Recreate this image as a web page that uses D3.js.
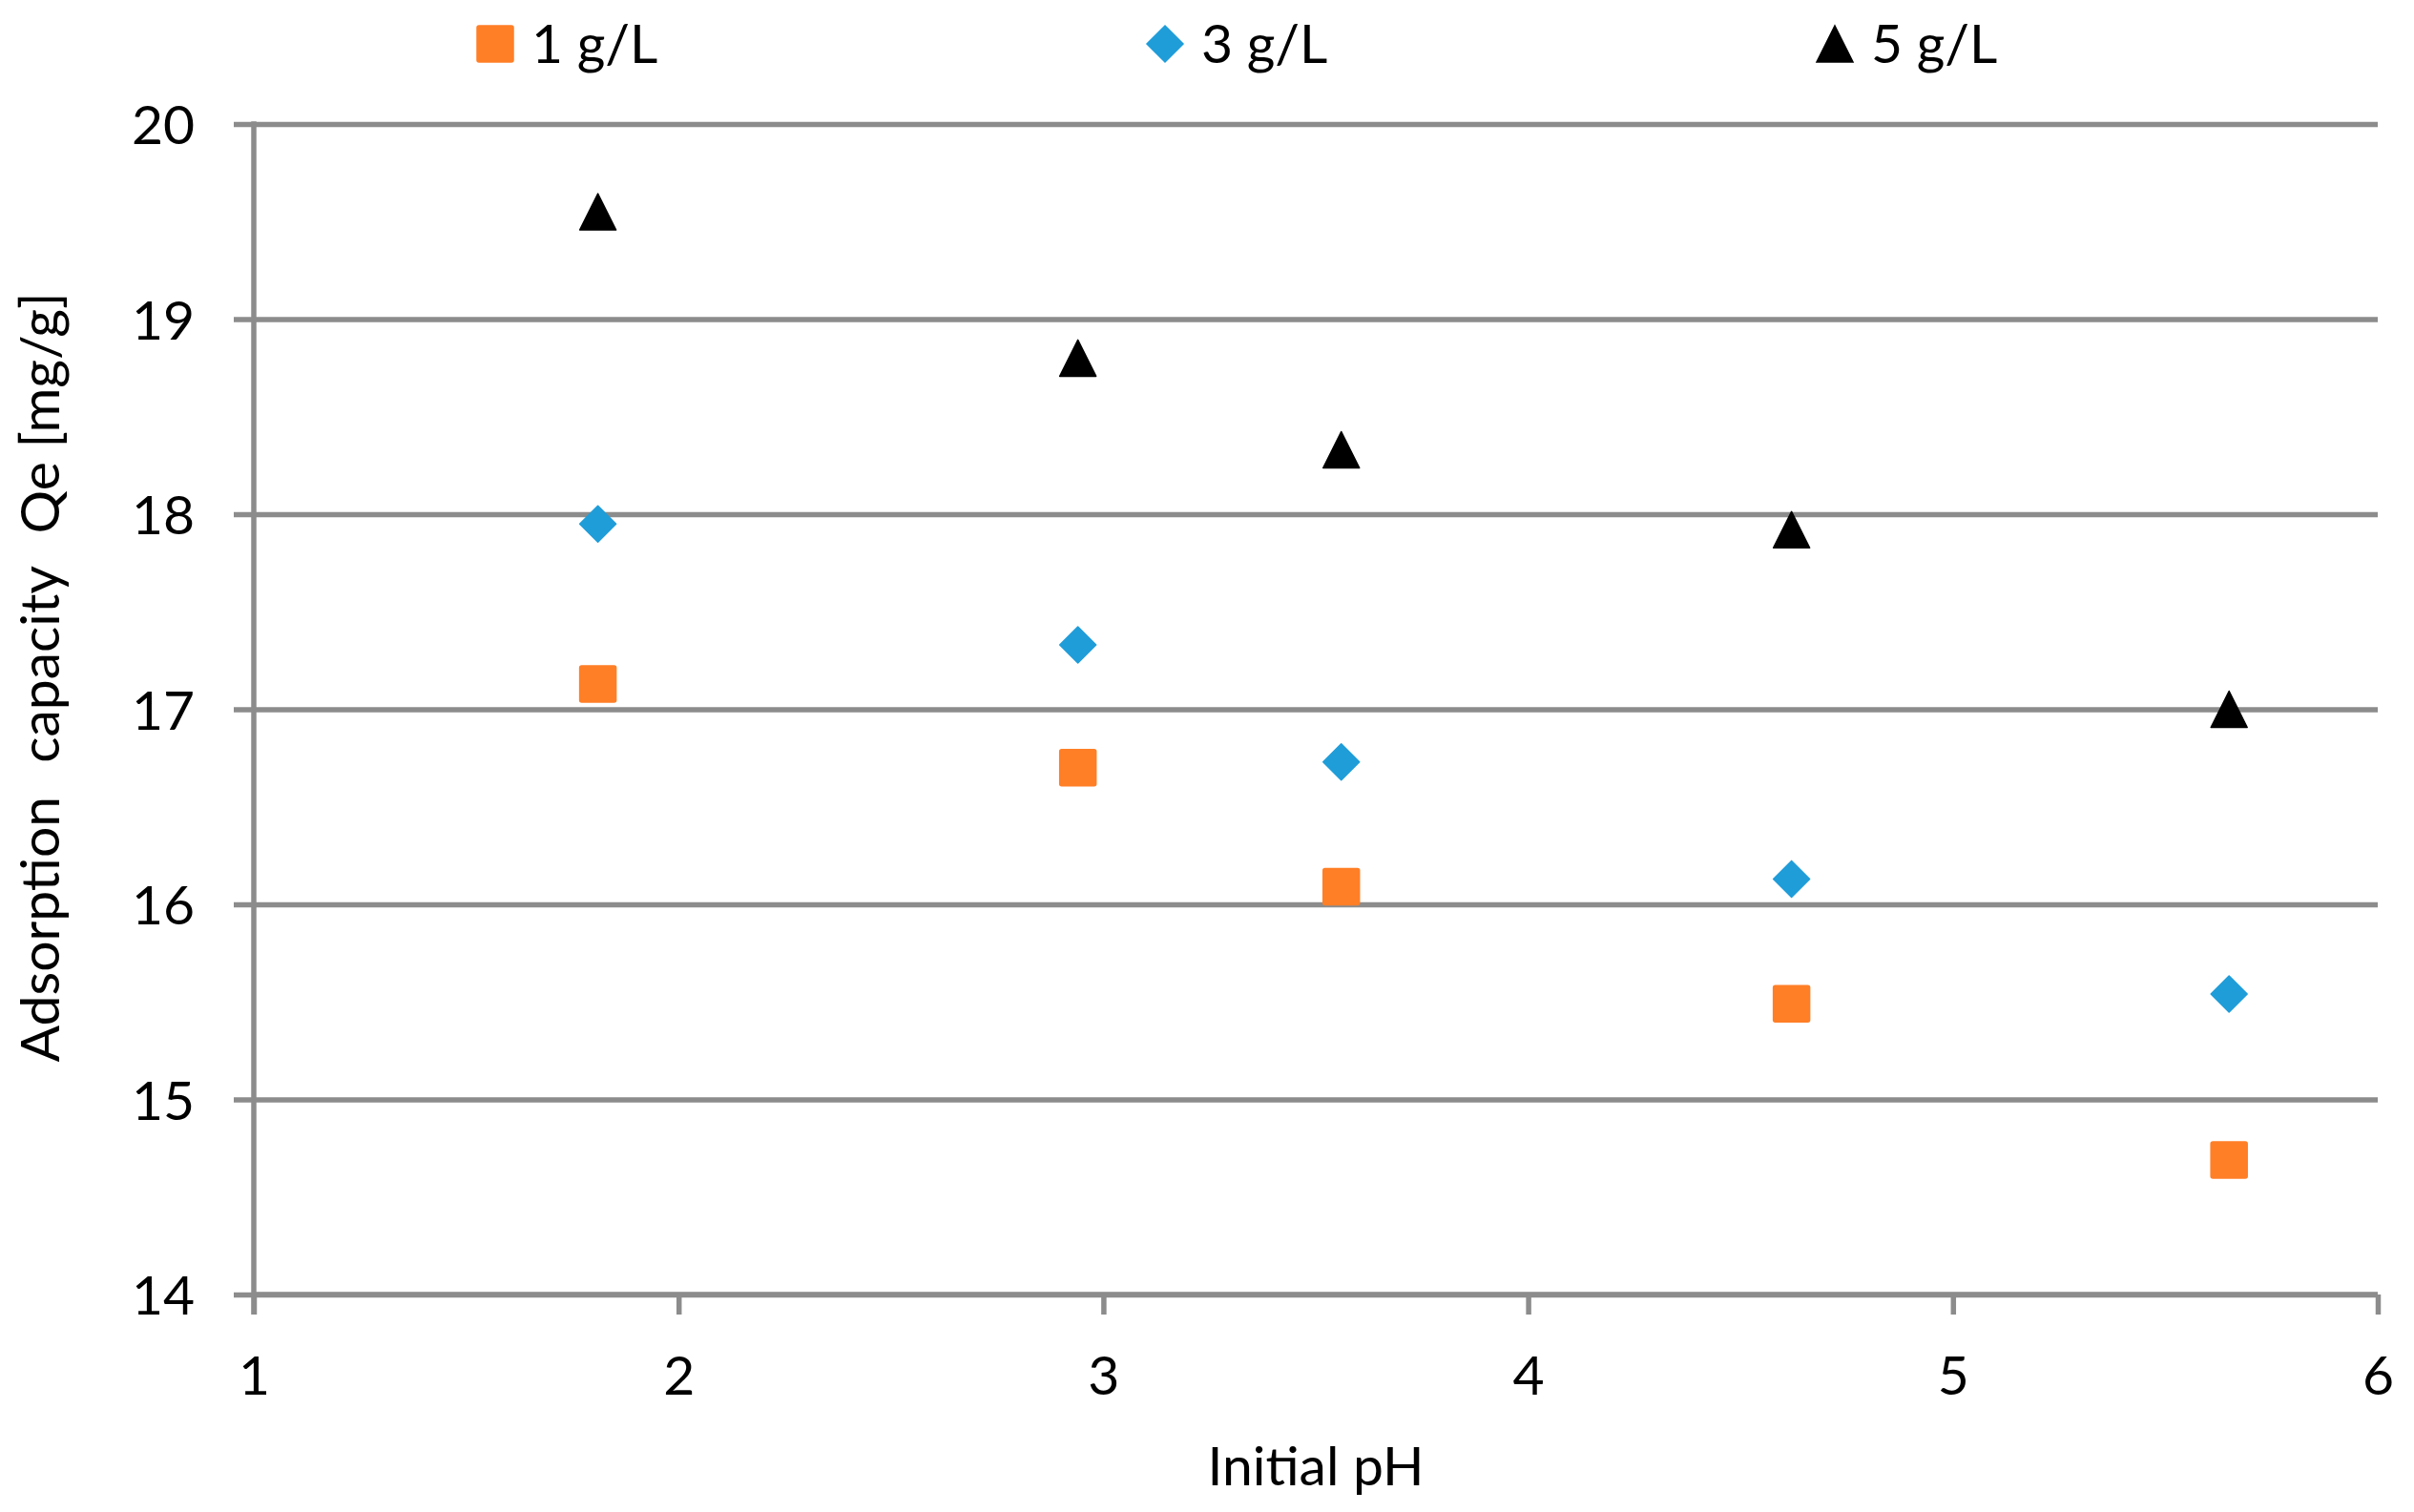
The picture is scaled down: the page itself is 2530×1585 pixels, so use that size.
<!DOCTYPE html>
<html>
<head>
<meta charset="utf-8">
<script src="https://cdn.jsdelivr.net/npm/d3@7"></script>
<style>
  html, body { margin: 0; padding: 0; background: #ffffff; }
  svg { display: block; }
  text { font-family: Lato, "Open Sans", "Liberation Sans", sans-serif; fill: #000; }
</style>
</head>
<body>
<svg id="chart" width="2530" height="1585"></svg>
<script>
// ---- data ----
const initialPH = [1.81, 2.94, 3.56, 4.62, 5.65];
const dose1 = [17.13, 16.70, 16.09, 15.49, 14.69];
const dose3 = [17.95, 17.33, 16.73, 16.13, 15.54];
const dose5 = [19.55, 18.80, 18.33, 17.92, 17.00];
const seriesNames = ["1 g/L", "3 g/L", "5 g/L"];
const xTicks = [1, 2, 3, 4, 5, 6];
const yTicks = [14, 15, 16, 17, 18, 19, 20];
const xTitle = "Initial pH";
const yTitleParts = ["Adsorption", "  capacity", "  Qe [mg/g]"];

// ---- layout ----
const plotL = 266, plotR = 2492, plotT = 130, plotB = 1357;
const gridColor = "#8c8c8c";
const fontSize = 57;
const markerSize = 38;

const series = [
  { name: seriesNames[0], values: dose1, color: "#ff7f27", shape: "square" },
  { name: seriesNames[1], values: dose3, color: "#1f9dd9", shape: "diamond" },
  { name: seriesNames[2], values: dose5, color: "#000000", shape: "triangle" }
];

const svg = d3.select("#chart");
const x = d3.scaleLinear().domain([1, 6]).range([plotL, plotR]);
const y = d3.scaleLinear().domain([14, 20]).range([plotB, plotT]);

function shapePath(shape, s) {
  const h = s / 2;
  if (shape === "square") {
    const r = 2;
    return `M${-h + r},${-h} H${h - r} Q${h},${-h} ${h},${-h + r} V${h - r} Q${h},${h} ${h - r},${h} H${-h + r} Q${-h},${h} ${-h},${h - r} V${-h + r} Q${-h},${-h} ${-h + r},${-h} Z`;
  }
  if (shape === "diamond") {
    return `M0,${-h} L${h},0 L0,${h} L${-h},0 Z`;
  }
  return `M0,${-h} L${h},${h} L${-h},${h} Z`;
}

// ---- gridlines (y) ----
svg.append("g")
  .attr("transform", `translate(${plotL},0)`)
  .call(d3.axisLeft(y).tickValues(yTicks).tickSize(-(plotR - plotL)).tickFormat(""))
  .call(g => g.select(".domain").remove())
  .call(g => g.selectAll("line").attr("stroke", gridColor).attr("stroke-width", 5.5));

// ---- y axis ----
svg.append("g")
  .attr("transform", `translate(${plotL},0)`)
  .call(d3.axisLeft(y).tickValues(yTicks).tickSize(21).tickPadding(41).tickFormat(d3.format("d")))
  .call(g => g.select(".domain").attr("stroke", gridColor).attr("stroke-width", 5.5)
    .attr("d", `M0,${plotT - 2.75}V${plotB + 21}`))
  .call(g => g.selectAll(".tick line").attr("stroke", gridColor).attr("stroke-width", 5.5))
  .call(g => g.selectAll(".tick text")
    .attr("font-size", fontSize).attr("font-family", "Lato, 'Open Sans', sans-serif")
    .attr("fill", "#000").attr("dy", "0.36em"));

// ---- x axis ----
svg.append("g")
  .attr("transform", `translate(0,${plotB})`)
  .call(d3.axisBottom(x).tickValues(xTicks).tickSize(21).tickPadding(0).tickFormat(d3.format("d")))
  .call(g => g.select(".domain").attr("stroke", gridColor).attr("stroke-width", 5.5)
    .attr("d", `M${plotL},0H${plotR}`))
  .call(g => g.selectAll(".tick line").attr("stroke", gridColor).attr("stroke-width", 5.5))
  .call(g => g.selectAll(".tick text")
    .attr("font-size", fontSize).attr("font-family", "Lato, 'Open Sans', sans-serif")
    .attr("fill", "#000").attr("y", 105).attr("dy", 0));

// ---- points ----
series.forEach(s => {
  svg.append("g").selectAll("path")
    .data(s.values.map((v, i) => ({ x: initialPH[i], y: v })))
    .join("path")
    .attr("transform", d => `translate(${x(d.x)},${y(d.y)})`)
    .attr("d", shapePath(s.shape, markerSize))
    .attr("fill", s.color)
    .attr("stroke", s.color)
    .attr("stroke-width", 1.5)
    .attr("stroke-linejoin", "round");
});

// ---- axis titles ----
svg.append("text")
  .attr("x", (plotL + plotR) / 2).attr("y", 1557)
  .attr("text-anchor", "middle").attr("font-size", fontSize)
  .text(xTitle);

const yt = svg.append("text")
  .attr("transform", `translate(62,710) rotate(-90)`)
  .attr("text-anchor", "middle").attr("font-size", fontSize)
  .style("white-space", "pre");
yt.selectAll("tspan").data(yTitleParts).join("tspan")
  .attr("dx", (d, i) => i === 0 ? 0 : 6)
  .text(d => d);

// ---- legend ----
const legendX = d3.scalePoint().domain(seriesNames).range([519, 1923]);
const lg = svg.append("g").selectAll("g").data(series).join("g")
  .attr("transform", d => `translate(${legendX(d.name)},46)`);
lg.append("path")
  .attr("d", d => shapePath(d.shape, markerSize))
  .attr("fill", d => d.color).attr("stroke", d => d.color).attr("stroke-width", 1.5);
lg.append("text")
  .attr("x", 38).attr("y", 20)
  .attr("font-size", fontSize)
  .text(d => d.name);
</script>
</body>
</html>
